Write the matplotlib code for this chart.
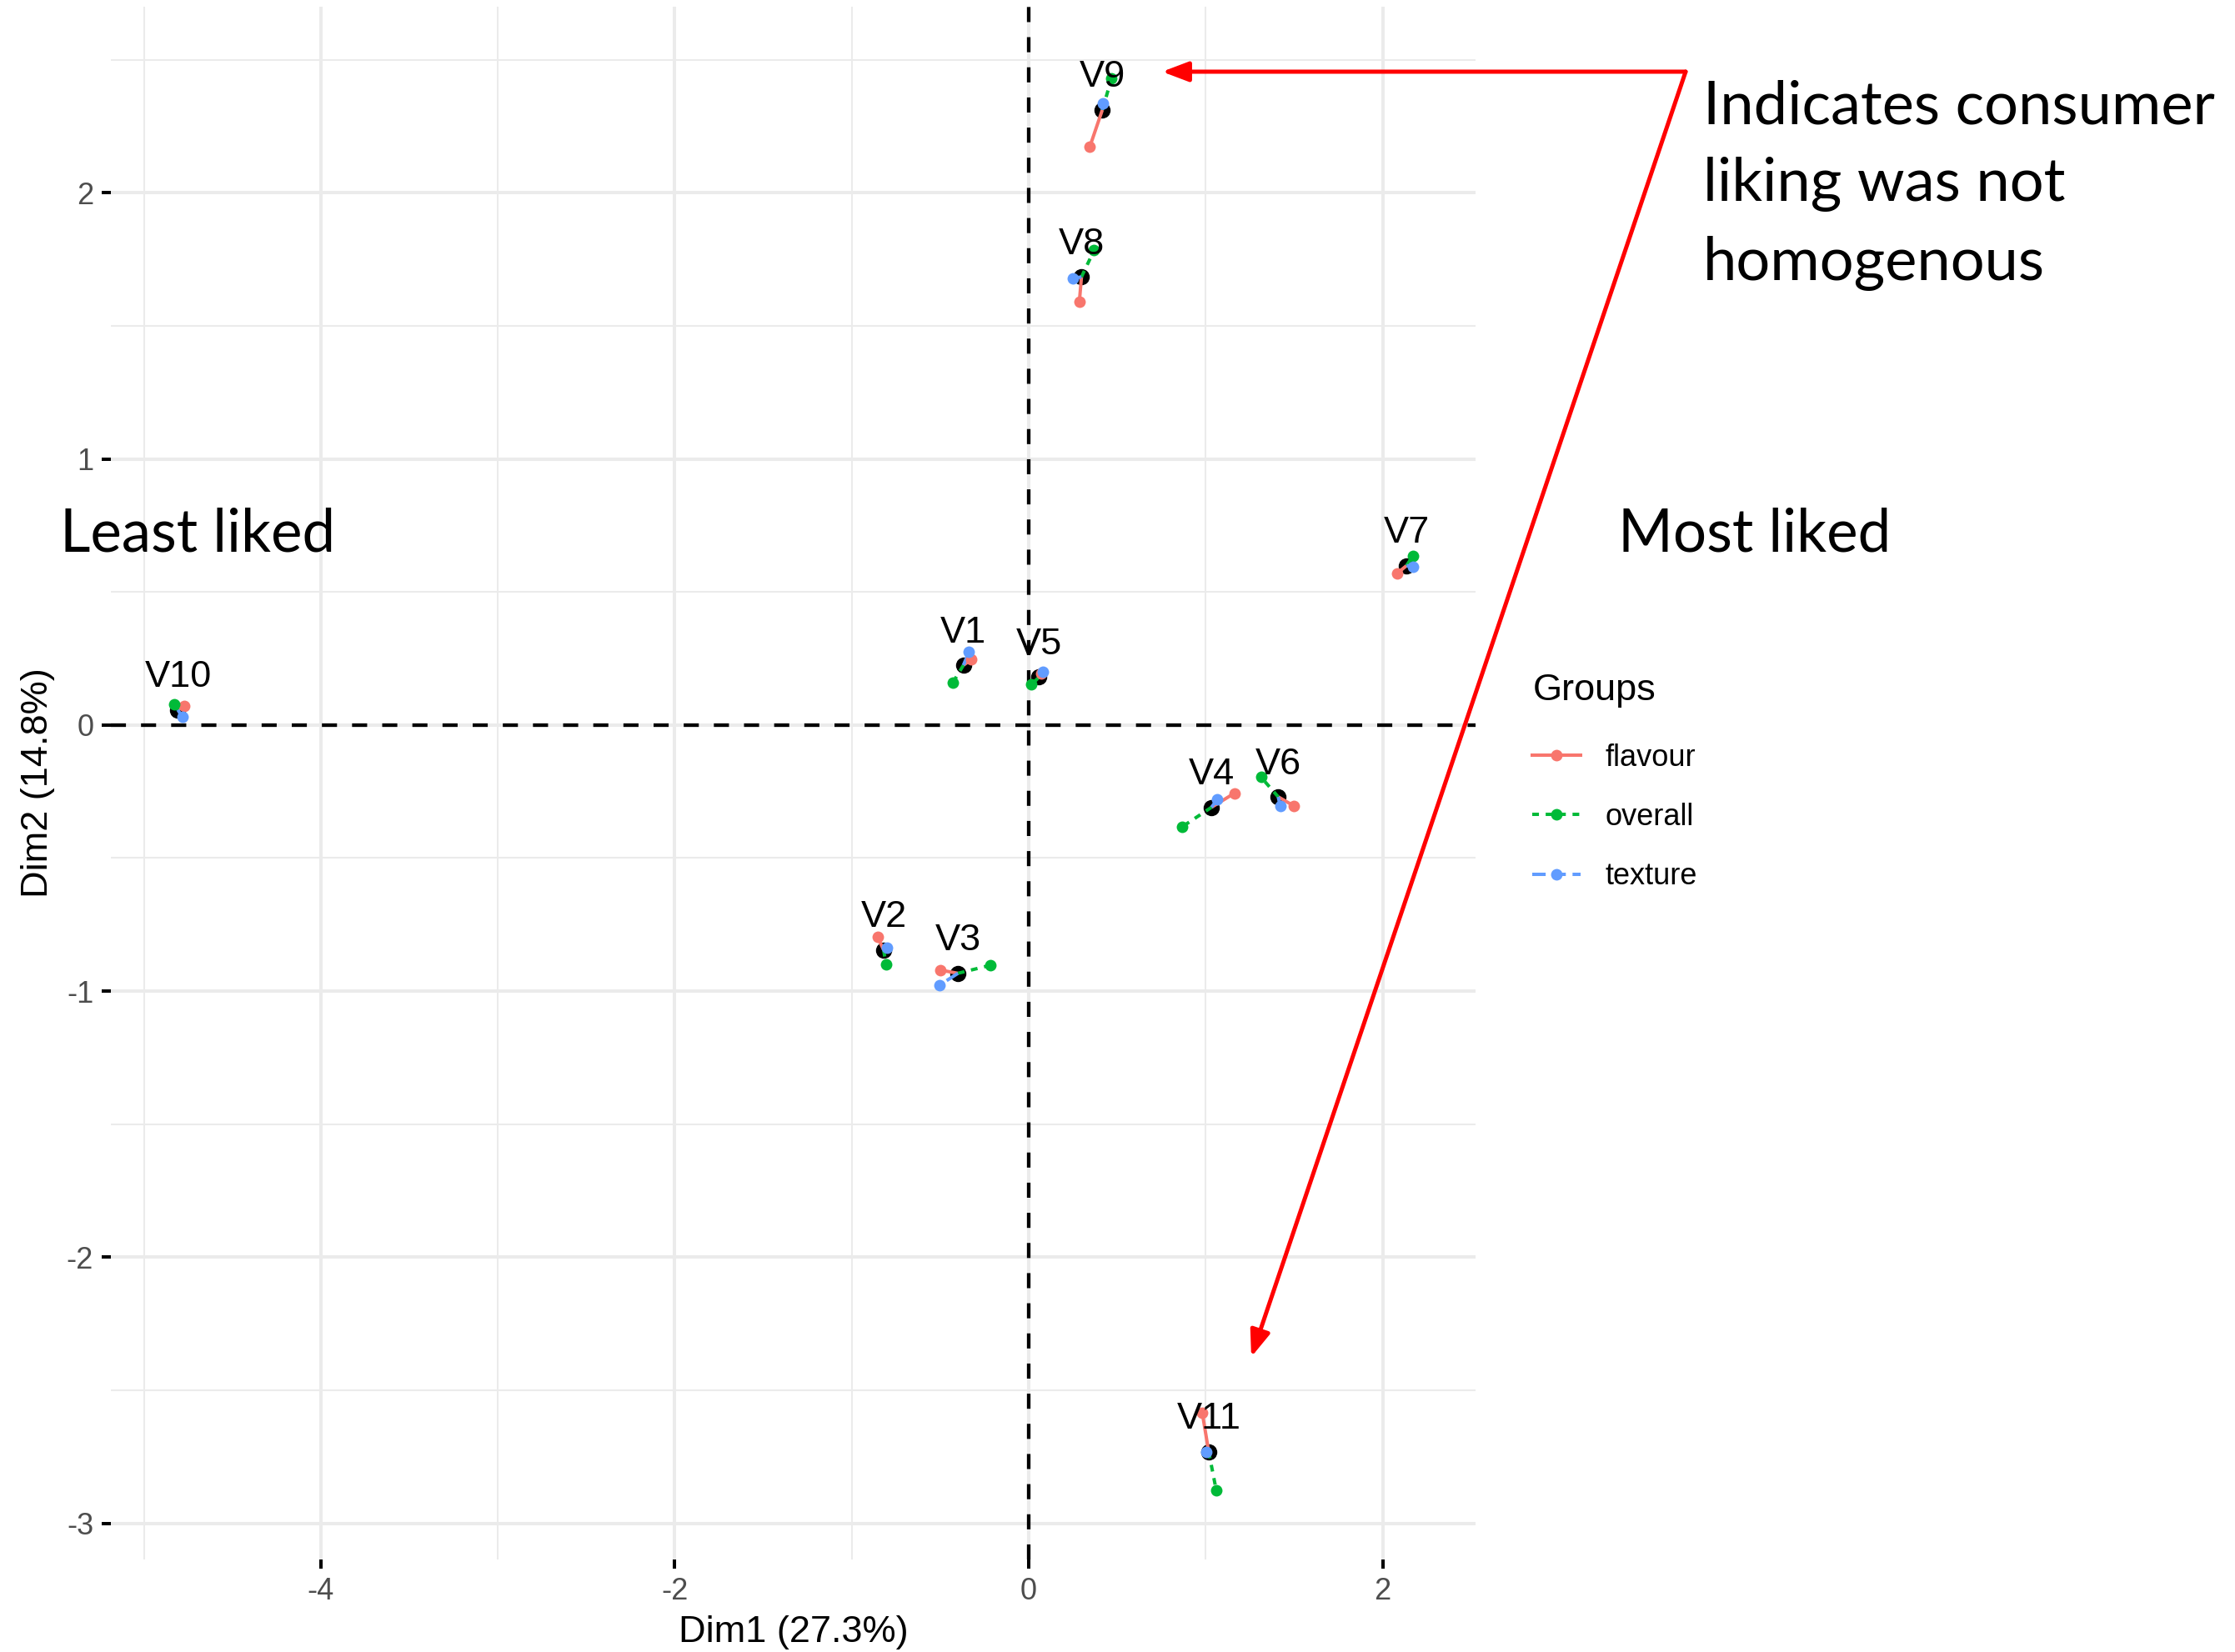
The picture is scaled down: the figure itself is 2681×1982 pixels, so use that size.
import numpy as np
import matplotlib
matplotlib.use('Agg')
import matplotlib.pyplot as plt
from matplotlib.lines import Line2D

plt.rcParams['font.family'] = ['Liberation Sans', 'DejaVu Sans']
plt.rcParams['axes.unicode_minus'] = False

# products and their MFA coordinates
products = ['V1', 'V2', 'V3', 'V4', 'V5', 'V6', 'V7', 'V8', 'V9', 'V10', 'V11']

mean_x = [-0.369, -0.820, -0.400, 1.033, 0.058, 1.410, 2.135, 0.298, 0.416, -4.808, 1.017]
mean_y = [0.225, -0.845, -0.933, -0.309, 0.180, -0.270, 0.599, 1.684, 2.312, 0.057, -2.731]

flavour_x = [-0.325, -0.854, -0.498, 1.163, 0.071, 1.496, 2.082, 0.286, 0.345, -4.772, 0.981]
flavour_y = [0.246, -0.797, -0.921, -0.256, 0.193, -0.303, 0.570, 1.590, 2.173, 0.073, -2.586]

overall_x = [-0.429, -0.807, -0.218, 0.868, 0.016, 1.313, 2.171, 0.369, 0.468, -4.831, 1.060]
overall_y = [0.159, -0.898, -0.903, -0.382, 0.152, -0.196, 0.636, 1.784, 2.430, 0.078, -2.877]

texture_x = [-0.338, -0.801, -0.505, 1.065, 0.082, 1.421, 2.171, 0.251, 0.419, -4.784, 1.002]
texture_y = [0.274, -0.837, -0.978, -0.280, 0.201, -0.305, 0.596, 1.679, 2.335, 0.031, -2.731]

groups = ['flavour', 'overall', 'texture']
group_colors = ['#F8766D', '#00BA38', '#619CFF']
group_styles = ['-', (0, (2, 2)), (0, (4, 2))]
group_x = [flavour_x, overall_x, texture_x]
group_y = [flavour_y, overall_y, texture_y]

fig = plt.figure(figsize=(26.81, 19.82), dpi=100)
ax = fig.add_axes([0.0496, 0.0560, 0.6106, 0.9400])

# centroids first, then the partial lines and points on top
ax.plot(mean_x, mean_y, 'o', color='black', markersize=13, zorder=3)
for gx, gy, c, ls in zip(group_x, group_y, group_colors, group_styles):
    for i in range(len(products)):
        ax.plot([mean_x[i], gx[i]], [mean_y[i], gy[i]], color=c, linestyle=ls,
                linewidth=2.9, zorder=4, solid_capstyle='butt', dash_capstyle='butt')
for gx, gy, c in zip(group_x, group_y, group_colors):
    ax.plot(gx, gy, 'o', color=c, markersize=10, markeredgewidth=0, zorder=5)

for i, p in enumerate(products):
    ax.annotate(p, (mean_x[i], mean_y[i]), xytext=(0, 28), textcoords='offset points',
                ha='center', va='center', fontsize=32.5, color='black', zorder=6)

ax.axhline(0, color='black', linestyle=(0, (4.2, 4.2)), linewidth=3.1, zorder=2)
ax.axvline(0, color='black', linestyle=(0, (4.2, 4.2)), linewidth=3.1, zorder=2)

ax.set_xlim(-5.187, 2.525)
ax.set_ylim(-3.136, 2.70)
ax.set_xticks([-4, -2, 0, 2])
ax.set_yticks([-3, -2, -1, 0, 1, 2])
ax.set_xticks([-5, -3, -1, 1], minor=True)
ax.set_yticks([-2.5, -1.5, -0.5, 0.5, 1.5, 2.5], minor=True)
ax.grid(which='major', color='#EBEBEB', linewidth=2.9, zorder=0)
ax.grid(which='minor', color='#EBEBEB', linewidth=1.5, zorder=0)
ax.set_axisbelow(True)
ax.tick_params(which='major', length=8, width=2.9, color='black', labelsize=26,
               labelcolor='#4D4D4D', pad=7)
ax.tick_params(which='minor', length=0)
for s in ax.spines.values():
    s.set_visible(False)
ax.set_xlabel('Dim1 (27.3%)', fontsize=32.5, labelpad=8)
ax.set_ylabel('Dim2 (14.8%)', fontsize=32.5, labelpad=10)

handles = [Line2D([0], [0], color=c, linestyle=ls, linewidth=2.9, marker='o',
                  markersize=10, markeredgewidth=0)
           for c, ls in zip(group_colors, group_styles)]
leg = fig.legend(handles, groups, loc='upper left', bbox_to_anchor=(0.679, 0.6015),
                 frameon=False, fontsize=26, title='Groups', title_fontsize=32.5,
                 handlelength=1.6, handletextpad=0.8, labelspacing=1.0,
                 borderpad=0, alignment='left')
leg._legend_box.sep = 31

# hand-drawn style annotations
ann_font = ['Lato', 'DejaVu Sans']
fig.text(72 / 2681, 1 - 641 / 1982, 'Least liked', fontsize=51, family=ann_font,
         ha='left', va='center')
fig.text(1941 / 2681, 1 - 641 / 1982, 'Most liked', fontsize=51, family=ann_font,
         ha='left', va='center')
fig.text(2043 / 2681, 1 - 222 / 1982,
         'Indicates consumer\nliking was not\nhomogenous', fontsize=52,
         family=ann_font, ha='left', va='center', linespacing=1.53)

corner = (2022 / 2681, 1 - 86 / 1982)
arrow_style = dict(arrowstyle='-|>,head_length=0.95,head_width=0.36', color='#FF0000',
                   linewidth=3.6, shrinkA=0, shrinkB=0, mutation_scale=20)
ax.annotate('', xy=(1394 / 2681, 1 - 86 / 1982), xycoords='figure fraction',
            xytext=corner, textcoords='figure fraction', arrowprops=arrow_style,
            annotation_clip=False)
ax.annotate('', xy=(1501 / 2681, 1 - 1628 / 1982), xycoords='figure fraction',
            xytext=corner, textcoords='figure fraction', arrowprops=arrow_style,
            annotation_clip=False)

plt.savefig('out.png', dpi=100)
